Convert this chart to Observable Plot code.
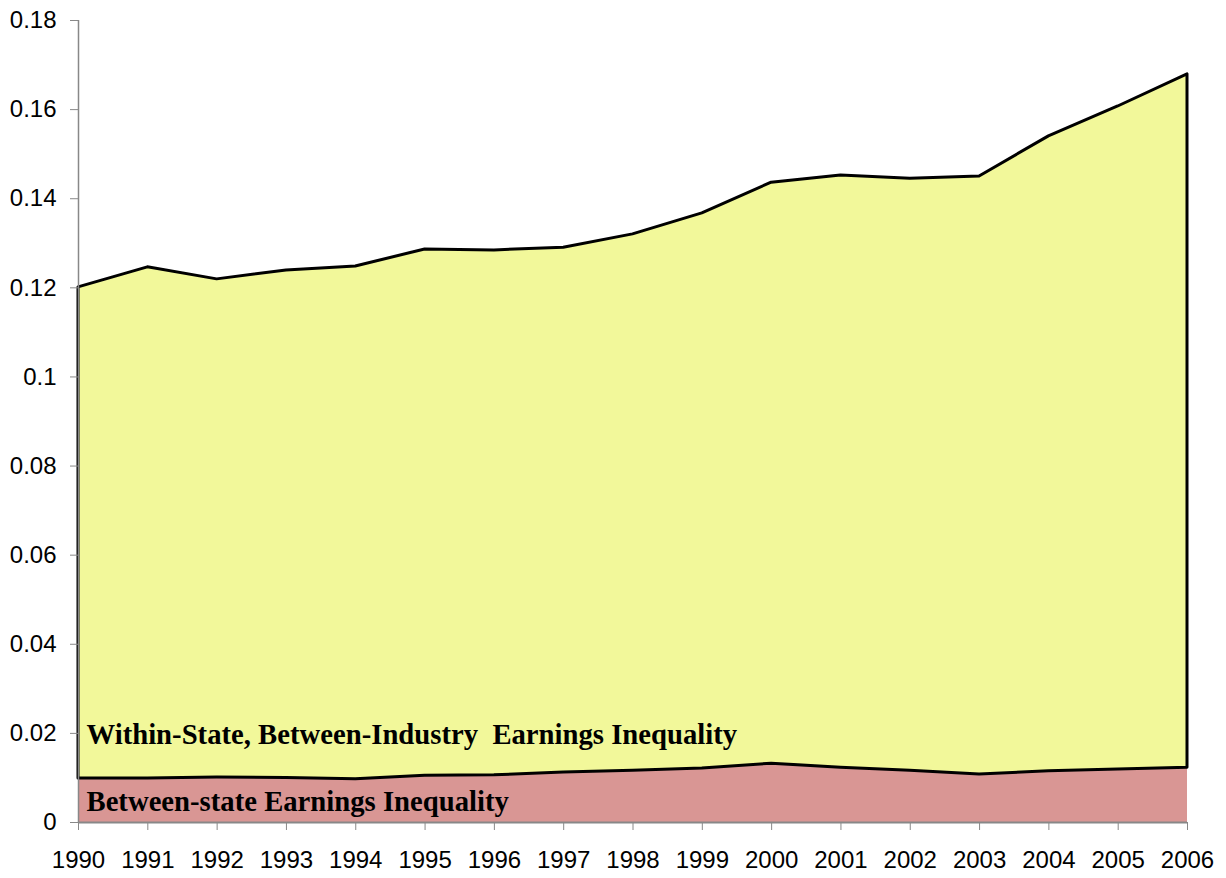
<!DOCTYPE html>
<html>
<head>
<meta charset="utf-8">
<script src="https://cdn.jsdelivr.net/npm/d3@7"></script>
<script src="https://cdn.jsdelivr.net/npm/@observablehq/plot@0.6"></script>
<style>
  html, body { margin: 0; padding: 0; background: #fff; }
  #chart { width: 1226px; height: 878px; }
</style>
</head>
<body>
<div id="chart"></div>
<script>
const years = [1990, 1991, 1992, 1993, 1994, 1995, 1996, 1997, 1998, 1999, 2000, 2001, 2002, 2003, 2004, 2005, 2006];
// Total earnings inequality (top of stacked area)
const totalInequality = [0.1201, 0.1246, 0.1219, 0.1239, 0.1248, 0.1286, 0.1284, 0.1290, 0.1320, 0.1367, 0.1436, 0.1452, 0.1445, 0.1450, 0.1540, 0.1607, 0.1679];
// Between-state earnings inequality (bottom component)
const betweenState = [0.0099, 0.0099, 0.0101, 0.0100, 0.0097, 0.0105, 0.0106, 0.0112, 0.0116, 0.0121, 0.0132, 0.0123, 0.0116, 0.0108, 0.0115, 0.0119, 0.0123];
const yTicks = [0, 0.02, 0.04, 0.06, 0.08, 0.1, 0.12, 0.14, 0.16, 0.18];
const seriesLabels = ["Within-State, Between-Industry  Earnings Inequality", "Between-state Earnings Inequality"];

const data = years.map((year, i) => ({year, between: betweenState[i], total: totalInequality[i]}));

const axisGray = "#888888";
const tickFont = "Liberation Sans, Arial, sans-serif";
const labelFont = "Liberation Serif, 'Times New Roman', serif";

const chart = Plot.plot({
  width: 1226,
  height: 878,
  marginLeft: 78,
  marginRight: 39,
  marginTop: 20,
  marginBottom: 56,
  style: {fontFamily: tickFont, background: "white"},
  x: {type: "linear", domain: [years[0], years[years.length - 1]]},
  y: {domain: [0, 0.18]},
  marks: [
    Plot.areaY(data, {x: "year", y1: 0, y2: "between", fill: "#D99694"}),
    Plot.areaY(data, {x: "year", y1: "between", y2: "total", fill: "#F2F89A", stroke: "black", strokeWidth: 3}),
    Plot.ruleX([years[0]], {stroke: axisGray, strokeWidth: 1.5}),
    Plot.ruleY([0], {stroke: axisGray, strokeWidth: 2}),
    Plot.axisY({ticks: yTicks, tickSize: 8, tickPadding: 14, fontSize: 24, stroke: axisGray, fill: "black", label: null,
      tickFormat: d => String(+d.toFixed(2))}),
    Plot.axisX({ticks: years, tickSize: 8, tickPadding: 20, fontSize: 24, stroke: axisGray, fill: "black", label: null,
      tickFormat: d => String(d)}),
    Plot.text([seriesLabels[0]], {frameAnchor: "bottom-left", dx: 8, dy: -79, text: d => d, textAnchor: "start", lineAnchor: "bottom",
      fontFamily: labelFont, fontWeight: "bold", fontSize: 28.7, fill: "black"}),
    Plot.text([seriesLabels[1]], {frameAnchor: "bottom-left", dx: 8, dy: -12, text: d => d, textAnchor: "start", lineAnchor: "bottom",
      fontFamily: labelFont, fontWeight: "bold", fontSize: 28.7, fill: "black"})
  ]
});
document.getElementById("chart").appendChild(chart);
</script>
</body>
</html>
